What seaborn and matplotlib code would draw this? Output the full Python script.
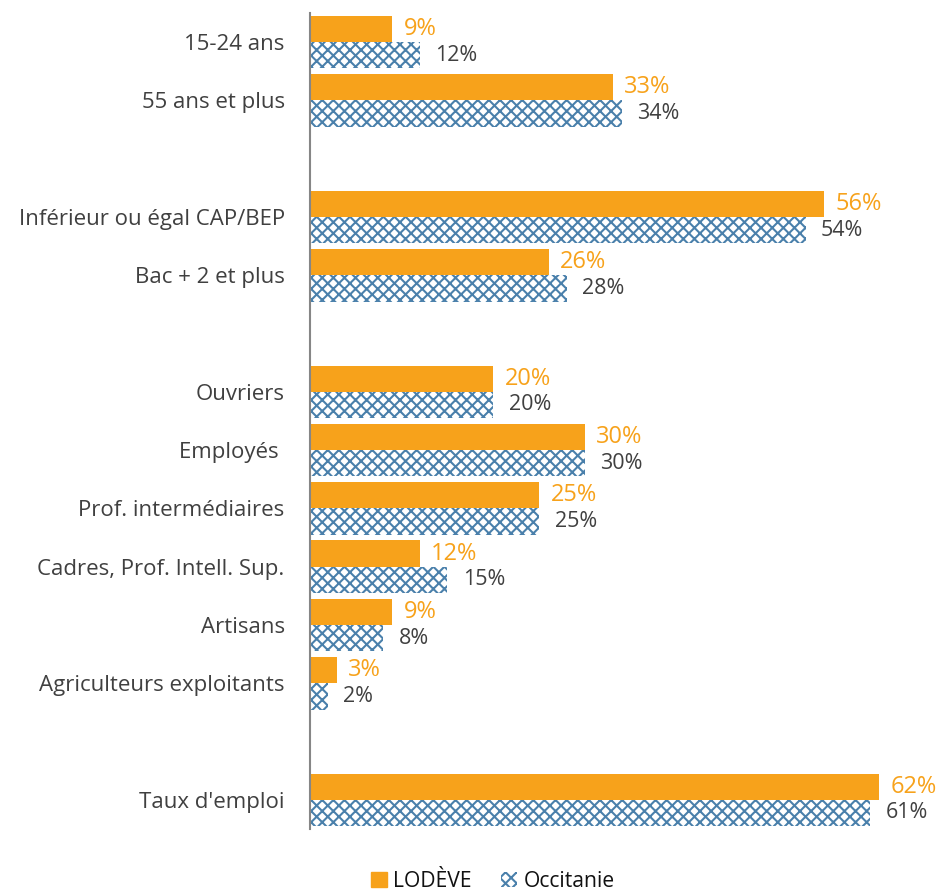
import numpy as np
import pandas as pd
import matplotlib
matplotlib.use("Agg")
import matplotlib.pyplot as plt
from matplotlib.patches import Patch
import seaborn as sns

# Data
categories = ["15-24 ans", "55 ans et plus",
              "Inférieur ou égal CAP/BEP", "Bac + 2 et plus",
              "Ouvriers", "Employés ", "Prof. intermédiaires",
              "Cadres, Prof. Intell. Sup.", "Artisans", "Agriculteurs exploitants",
              "Taux d'emploi"]
lodeve = [9, 33, 56, 26, 20, 30, 25, 12, 9, 3, 62]
occitanie = [12, 34, 54, 28, 20, 30, 25, 15, 8, 2, 61]
series = ["LODÈVE", "Occitanie"]

# display order, blank slots separate the groups
order = ["15-24 ans", "55 ans et plus", " ",
         "Inférieur ou égal CAP/BEP", "Bac + 2 et plus", "  ",
         "Ouvriers", "Employés ", "Prof. intermédiaires",
         "Cadres, Prof. Intell. Sup.", "Artisans", "Agriculteurs exploitants", "   ",
         "Taux d'emploi"]

df = pd.DataFrame({
    "categorie": categories * 2,
    "serie": [series[0]] * len(categories) + [series[1]] * len(categories),
    "valeur": lodeve + occitanie,
})

orange = "#F7A21B"
blue = "#4A80AB"
txt = "#404040"

sns.set_style("white")
plt.rcParams["font.family"] = ["Open Sans", "DejaVu Sans"]
plt.rcParams["hatch.linewidth"] = 1.5

fig = plt.figure(figsize=(9.53, 8.91), dpi=100)
ax = fig.add_axes([0.325, 0.0696, 0.665, 0.9158])

sns.barplot(data=df, y="categorie", x="valeur", hue="serie", order=order,
            hue_order=series, orient="h", palette=[orange, "white"],
            saturation=1, width=0.9, legend=False, ax=ax)

# hatch the Occitanie bars
for bar in ax.containers[1]:
    bar.set_facecolor("white")
    bar.set_edgecolor(blue)
    bar.set_hatch("xxx")
    bar.set_linewidth(0)
for bar in ax.containers[0]:
    bar.set_linewidth(0)

ax.bar_label(ax.containers[0], fmt="{:.0f}%", padding=8, color=orange, fontsize=17)
ax.bar_label(ax.containers[1], fmt="{:.0f}%", padding=11, color=txt, fontsize=15.5)

ax.set_xlim(0, 69)
ax.set_xlabel("")
ax.set_ylabel("")
ax.set_xticks([])
ax.tick_params(axis="y", length=0, labelsize=16, labelcolor=txt, pad=18)
for s in ["top", "right", "bottom"]:
    ax.spines[s].set_visible(False)
ax.spines["left"].set_color("#868686")
ax.spines["left"].set_linewidth(1.5)

handles = [Patch(facecolor=orange, edgecolor=orange, label=series[0]),
           Patch(facecolor="white", edgecolor=blue, hatch="xxx", linewidth=0, label=series[1])]
fig.legend(handles=handles, loc="lower center", bbox_to_anchor=(0.517, -0.022), ncol=2,
           frameon=False, fontsize=15.2, handlelength=0.75, handleheight=0.75,
           handletextpad=0.3, columnspacing=1.4, labelcolor="#111111")

fig.savefig("out.png", dpi=100)
